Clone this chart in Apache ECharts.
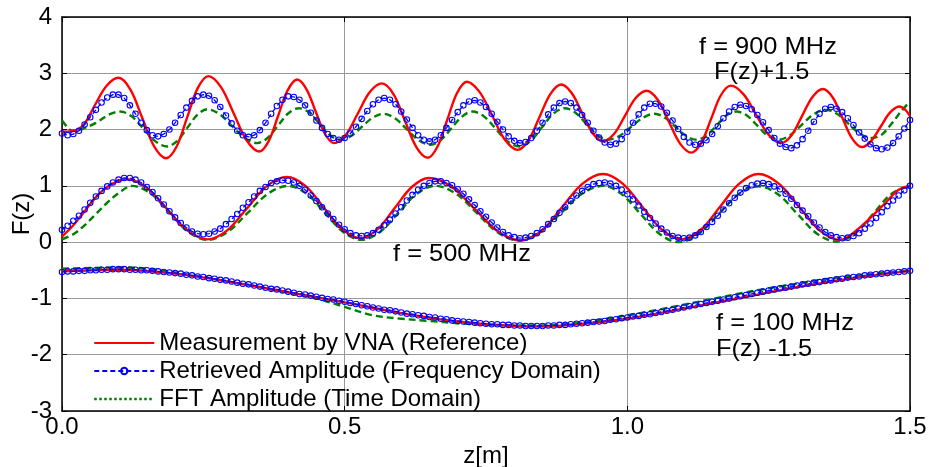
<!DOCTYPE html>
<html><head><meta charset="utf-8">
<script src="https://cdn.jsdelivr.net/npm/echarts@6/dist/echarts.min.js"></script>
<style>html,body{margin:0;padding:0;background:#fff}#c{width:929px;height:467px}</style>
</head><body><div id="c"></div>
<script>
// ---------- data ----------
const nameRed = 'Measurement by VNA (Reference)';
const nameBlue = 'Retrieved Amplitude (Frequency Domain)';
const nameGreen = 'FFT Amplitude (Time Domain)';

const xTicks = [0.0, 0.5, 1.0, 1.5];
const yTicks = [-3, -2, -1, 0, 1, 2, 3, 4];

// Retrieved amplitude samples (blue, markers)
const zBlue = [
 0.00,0.01,0.02,0.03,0.04,0.05,0.06,0.07,0.08,0.09,
 0.10,0.11,0.12,0.13,0.14,0.15,0.16,0.17,0.18,0.19,
 0.20,0.21,0.22,0.23,0.24,0.25,0.26,0.27,0.28,0.29,
 0.30,0.31,0.32,0.33,0.34,0.35,0.36,0.37,0.38,0.39,
 0.40,0.41,0.42,0.43,0.44,0.45,0.46,0.47,0.48,0.49,
 0.50,0.51,0.52,0.53,0.54,0.55,0.56,0.57,0.58,0.59,
 0.60,0.61,0.62,0.63,0.64,0.65,0.66,0.67,0.68,0.69,
 0.70,0.71,0.72,0.73,0.74,0.75,0.76,0.77,0.78,0.79,
 0.80,0.81,0.82,0.83,0.84,0.85,0.86,0.87,0.88,0.89,
 0.90,0.91,0.92,0.93,0.94,0.95,0.96,0.97,0.98,0.99,
 1.00,1.01,1.02,1.03,1.04,1.05,1.06,1.07,1.08,1.09,
 1.10,1.11,1.12,1.13,1.14,1.15,1.16,1.17,1.18,1.19,
 1.20,1.21,1.22,1.23,1.24,1.25,1.26,1.27,1.28,1.29,
 1.30,1.31,1.32,1.33,1.34,1.35,1.36,1.37,1.38,1.39,
 1.40,1.41,1.42,1.43,1.44,1.45,1.46,1.47,1.48,1.49,
 1.50];
const blue900 = [
 1.93,1.90,1.92,1.98,2.09,2.22,2.35,2.48,2.57,2.62,
 2.62,2.56,2.43,2.28,2.12,1.99,1.90,1.88,1.92,2.00,
 2.12,2.26,2.39,2.51,2.59,2.62,2.60,2.52,2.40,2.25,
 2.11,1.98,1.90,1.87,1.90,1.99,2.12,2.28,2.42,2.53,
 2.59,2.58,2.53,2.43,2.30,2.16,2.03,1.92,1.85,1.82,
 1.85,1.93,2.05,2.19,2.33,2.45,2.53,2.56,2.53,2.45,
 2.32,2.18,2.03,1.90,1.82,1.79,1.82,1.90,2.03,2.17,
 2.31,2.43,2.50,2.52,2.48,2.40,2.28,2.14,2.00,1.88,
 1.80,1.76,1.78,1.85,1.98,2.12,2.27,2.39,2.47,2.50,
 2.47,2.39,2.26,2.12,1.98,1.86,1.77,1.73,1.75,1.83,
 1.96,2.12,2.27,2.39,2.46,2.46,2.41,2.30,2.16,2.01,
 1.87,1.77,1.73,1.75,1.81,1.92,2.06,2.20,2.32,2.40,
 2.44,2.42,2.36,2.26,2.13,1.99,1.85,1.75,1.69,1.67,
 1.72,1.83,1.98,2.14,2.28,2.37,2.40,2.37,2.31,2.20,
 2.08,1.95,1.84,1.74,1.67,1.65,1.68,1.76,1.88,2.02,
 2.17];
const blue500 = [
 0.22,0.29,0.38,0.47,0.58,0.70,0.81,0.91,0.99,1.06,
 1.11,1.14,1.14,1.11,1.06,0.98,0.89,0.78,0.67,0.55,
 0.44,0.34,0.26,0.19,0.15,0.14,0.15,0.19,0.24,0.32,
 0.41,0.50,0.61,0.71,0.81,0.91,0.98,1.05,1.08,1.10,
 1.09,1.06,1.00,0.93,0.83,0.73,0.62,0.51,0.41,0.31,
 0.23,0.16,0.12,0.11,0.12,0.16,0.22,0.30,0.40,0.51,
 0.62,0.74,0.84,0.93,1.00,1.05,1.08,1.08,1.05,1.01,
 0.94,0.86,0.76,0.66,0.55,0.45,0.35,0.26,0.18,0.12,
 0.09,0.07,0.08,0.11,0.16,0.23,0.32,0.41,0.52,0.62,
 0.73,0.83,0.91,0.98,1.03,1.05,1.06,1.04,1.00,0.93,
 0.85,0.76,0.65,0.54,0.43,0.33,0.24,0.17,0.11,0.08,
 0.07,0.08,0.12,0.18,0.27,0.36,0.47,0.58,0.69,0.79,
 0.88,0.96,1.01,1.04,1.05,1.03,0.99,0.94,0.86,0.77,
 0.66,0.56,0.46,0.35,0.26,0.18,0.12,0.09,0.07,0.08,
 0.11,0.16,0.24,0.33,0.43,0.53,0.64,0.74,0.83,0.92,
 1.00];
const blue100 = [
 -0.53,-0.52,-0.52,-0.51,-0.51,-0.50,-0.50,-0.49,-0.49,-0.48,
 -0.48,-0.48,-0.49,-0.49,-0.50,-0.50,-0.51,-0.52,-0.53,-0.54,
 -0.55,-0.56,-0.58,-0.59,-0.61,-0.62,-0.64,-0.65,-0.67,-0.68,
 -0.70,-0.72,-0.74,-0.75,-0.77,-0.79,-0.81,-0.83,-0.84,-0.86,
 -0.88,-0.90,-0.92,-0.93,-0.95,-0.97,-0.99,-1.01,-1.02,-1.04,
 -1.06,-1.08,-1.10,-1.12,-1.14,-1.16,-1.18,-1.20,-1.21,-1.23,
 -1.25,-1.27,-1.28,-1.30,-1.31,-1.33,-1.34,-1.36,-1.37,-1.39,
 -1.40,-1.41,-1.42,-1.43,-1.44,-1.45,-1.46,-1.46,-1.47,-1.47,
 -1.48,-1.48,-1.49,-1.49,-1.49,-1.49,-1.48,-1.48,-1.47,-1.47,
 -1.46,-1.45,-1.44,-1.43,-1.42,-1.41,-1.40,-1.38,-1.37,-1.35,
 -1.34,-1.32,-1.31,-1.29,-1.28,-1.26,-1.24,-1.22,-1.20,-1.18,
 -1.16,-1.14,-1.12,-1.10,-1.08,-1.06,-1.04,-1.02,-1.00,-0.98,
 -0.96,-0.94,-0.92,-0.90,-0.88,-0.86,-0.84,-0.82,-0.81,-0.79,
 -0.77,-0.75,-0.74,-0.72,-0.71,-0.69,-0.68,-0.66,-0.65,-0.63,
 -0.62,-0.61,-0.59,-0.58,-0.57,-0.56,-0.55,-0.54,-0.53,-0.52,
 -0.51];

// Measurement by VNA (red)
const zRed900 = [0,0.018,0.038,0.059,0.079,0.1,
 0.121,0.142,0.163,0.184, 0.2028,0.2215,0.2403,0.259, 0.2815,0.304,0.3265,0.349,
 0.3658,0.3825,0.3993,0.416, 0.4323,0.4485,0.4648,0.481, 0.5023,0.5235,0.5448,0.566,
 0.5863,0.6065,0.6268,0.647, 0.6643,0.6815,0.6988,0.716, 0.7385,0.761,0.7835,0.806,
 0.8253,0.8445,0.8638,0.883, 0.9015,0.92,0.9385,0.957, 0.9763,0.9955,1.0148,1.034,
 1.0538,1.0735,1.0933,1.113, 1.1305,1.148,1.1655,1.183, 1.2053,1.2275,1.2498,1.272,
 1.2905,1.309,1.3275,1.346, 1.3633,1.3805,1.3978,1.415, 1.4315,1.448,1.4645,1.481,
 1.491,1.5];
const fRed900 = [1.96,1.97,2.08,2.45,2.78,2.92,
 2.71,2.205,1.70,1.49, 1.70,2.22,2.74,2.95, 2.75,2.28,1.81,1.61,
 1.80,2.25,2.70,2.89, 2.72,2.325,1.93,1.76, 1.91,2.29,2.67,2.82,
 2.63,2.16,1.69,1.50, 1.70,2.175,2.65,2.85, 2.67,2.245,1.82,1.64,
 1.81,2.22,2.63,2.80, 2.65,2.295,1.94,1.79, 1.92,2.24,2.56,2.69,
 2.53,2.14,1.75,1.59, 1.76,2.185,2.61,2.78, 2.63,2.27,1.91,1.76,
 1.90,2.24,2.58,2.72, 2.57,2.205,1.84,1.69, 1.80,2.05,2.30,2.41,
 2.36,2.24];
const zRed500 = [0,0.02,0.04,0.06,0.08,0.1,0.115,
 0.1505,0.186,0.2215,0.257, 0.2923,0.3275,0.3628,0.398, 0.4305,0.463,0.4955,0.528,
 0.5583,0.5885,0.6188,0.649, 0.6898,0.7305,0.7713,0.812, 0.8483,0.8845,0.9208,0.957,
 0.9918,1.0265,1.0613,1.096, 1.13,1.164,1.198,1.232, 1.268,1.304,1.34,1.376,
 1.41,1.45,1.48,1.5];
const fRed500 = [0.10,0.30,0.55,0.80,0.98,1.09,1.12,
 0.96,0.585,0.21,0.05, 0.21,0.605,1.00,1.16, 1.00,0.615,0.23,0.07,
 0.23,0.605,0.98,1.14, 0.98,0.585,0.19,0.03, 0.20,0.62,1.04,1.21,
 1.04,0.63,0.22,0.05, 0.22,0.63,1.04,1.21, 1.04,0.625,0.21,0.04,
 0.25,0.63,0.93,1.00];
const zRed100 = [0,0.1,0.2,0.3,0.4,0.5,0.6,0.7,0.8,0.85,0.9,1.0,1.1,1.2,1.3,1.4,1.5];
const fRed100 = [-0.52,-0.49,-0.56,-0.71,-0.89,-1.07,-1.26,-1.41,-1.49,-1.50,-1.47,-1.36,-1.18,-0.99,-0.80,-0.64,-0.51];

// FFT amplitude (green)
const zGreen900 = [0,0.009,0.018,0.035,0.06,0.08,0.092,0.103,
 0.1238,0.1445,0.1653,0.186, 0.2038,0.2215,0.2393,0.257, 0.279,0.301,0.323,0.345,
 0.3635,0.382,0.4005,0.419, 0.4375,0.456,0.4745,0.493, 0.5118,0.5305,0.5493,0.568,
 0.589,0.61,0.631,0.652, 0.6705,0.689,0.7075,0.726, 0.7468,0.7675,0.7883,0.809,
 0.829,0.849,0.869,0.889, 0.9083,0.9275,0.9468,0.966, 0.9865,1.007,1.0275,1.048,
 1.0665,1.085,1.1035,1.122, 1.1398,1.1575,1.1753,1.193, 1.2115,1.23,1.2485,1.267,
 1.2878,1.3085,1.3293,1.35, 1.3708,1.3915,1.4123,1.433, 1.45,1.467,1.484,1.5];
const fGreen900 = [2.16,2.05,1.98,2.01,2.12,2.25,2.30,2.32,
 2.23,2.01,1.79,1.70, 1.80,2.03,2.26,2.36, 2.27,2.06,1.85,1.76,
 1.85,2.07,2.29,2.38, 2.30,2.10,1.90,1.82, 1.89,2.05,2.21,2.28,
 2.20,2.005,1.81,1.73, 1.82,2.025,2.23,2.32, 2.23,2.01,1.79,1.70,
 1.80,2.04,2.28,2.38, 2.30,2.10,1.90,1.82, 1.89,2.05,2.21,2.28,
 2.21,2.05,1.89,1.82, 1.89,2.07,2.25,2.32, 2.25,2.07,1.89,1.82,
 1.90,2.085,2.27,2.35, 2.28,2.10,1.92,1.85, 1.91,2.10,2.32,2.50];
const zGreen500 = [0,0.02,0.04,0.06,0.08,0.1,0.124,
 0.1573,0.1905,0.2238,0.257, 0.2928,0.3285,0.3643,0.40, 0.4325,0.465,0.4975,0.53,
 0.5625,0.595,0.6275,0.66, 0.697,0.734,0.771,0.808, 0.8453,0.8825,0.9198,0.957,
 0.9903,1.0235,1.0568,1.09, 1.1255,1.161,1.1965,1.232, 1.2665,1.301,1.3355,1.37,
 1.4025,1.435,1.4675,1.5];
const fGreen500 = [0.05,0.14,0.30,0.50,0.70,0.87,1.00,
 0.86,0.52,0.18,0.04, 0.18,0.52,0.86,1.00, 0.86,0.52,0.18,0.04,
 0.18,0.52,0.86,1.00, 0.86,0.515,0.17,0.03, 0.17,0.515,0.86,1.00,
 0.85,0.50,0.15,0.00, 0.14,0.495,0.85,0.99, 0.85,0.50,0.15,0.01,
 0.15,0.505,0.86,1.00];
const zGreen100 = [0,0.05,0.1,0.15,0.2,0.25,0.3,0.35,0.4,0.45,0.5,0.55,0.6,0.65,0.7,0.75,0.8,0.85,0.9,0.95,1.0,1.05,1.1,1.15,1.2,1.25,1.3,1.35,1.4,1.45,1.5];
const fGreen100 = [-0.47,-0.46,-0.45,-0.47,-0.54,-0.62,-0.71,-0.80,-0.90,-1.00,-1.15,-1.30,-1.36,-1.40,-1.44,-1.47,-1.48,-1.48,-1.45,-1.38,-1.30,-1.21,-1.11,-1.01,-0.91,-0.82,-0.74,-0.66,-0.60,-0.55,-0.51];

const annotations = [
  {text: 'f = 900 MHz', x: 699, y: 35},
  {text: 'F(z)+1.5', x: 714, y: 60},
  {text: 'f = 500 MHz', x: 393, y: 242},
  {text: 'f = 100 MHz', x: 716, y: 311},
  {text: 'F(z) -1.5', x: 716, y: 337}
];

// ---------- chart ----------
const FONT = 'Liberation Sans, Arial, sans-serif';
const zip = (zs, fs) => zs.map((z, i) => [z, fs[i]]);
const RED = '#ff0000', BLUE = '#0000ff', GREEN = '#008000';

function redSeries(zs, fs) {
  return {type: 'line', name: nameRed, data: zip(zs, fs), smooth: 0.35, symbol: 'none', z: 3,
    lineStyle: {color: RED, width: 2.4}, itemStyle: {color: RED}, silent: true, emphasis: {disabled: true}};
}
function blueSeries(fs) {
  return {type: 'line', name: nameBlue, data: zip(zBlue, fs), smooth: false, symbol: 'circle', symbolSize: 5.5, showAllSymbol: true, z: 4,
    lineStyle: {color: BLUE, width: 1.3, type: [5, 3]},
    itemStyle: {color: 'rgba(255,255,255,0)', borderColor: BLUE, borderWidth: 1.1}, silent: true, emphasis: {disabled: true}};
}
function greenSeries(zs, fs) {
  return {type: 'line', name: nameGreen, data: zip(zs, fs), smooth: 0.35, symbol: 'none', z: 2,
    lineStyle: {color: GREEN, width: 2.4, type: [7, 4]}, itemStyle: {color: GREEN}, silent: true, emphasis: {disabled: true}};
}

const axisCommon = {
  type: 'value',
  axisLine: {show: true, onZero: false, lineStyle: {color: '#000', width: 1.5}},
  axisTick: {show: true, inside: true, length: 5, lineStyle: {color: '#000', width: 1}},
};

const chart = echarts.init(document.getElementById('c'), null, {renderer: 'canvas'});
chart.setOption({
  animation: false,
  backgroundColor: '#fff',
  grid: {left: 62, right: 19, top: 17, bottom: 56, containLabel: false, outerBoundsMode: 'none'},
  xAxis: [
    Object.assign({}, axisCommon, {
      position: 'bottom', min: xTicks[0], max: xTicks[xTicks.length - 1], interval: 0.5,
      name: 'z[m]', nameLocation: 'middle', nameGap: 29,
      nameTextStyle: {color: '#000', fontSize: 24, fontFamily: FONT},
      axisLabel: {show: true, color: '#000', fontSize: 24, fontFamily: FONT, margin: 4,
        formatter: v => v.toFixed(1)},
      splitLine: {show: true, lineStyle: {color: '#999', width: 1}}
    }),
    Object.assign({}, axisCommon, {
      position: 'top', min: xTicks[0], max: xTicks[xTicks.length - 1], interval: 0.5,
      axisLabel: {show: false}, splitLine: {show: false}
    })
  ],
  yAxis: [
    Object.assign({}, axisCommon, {
      position: 'left', min: yTicks[0], max: yTicks[yTicks.length - 1], interval: 1,
      name: 'F(z)', nameLocation: 'middle', nameGap: 28, nameRotate: 90, nameMoveOverlap: false,
      nameTextStyle: {color: '#000', fontSize: 24, fontFamily: FONT},
      axisLabel: {show: true, color: '#000', fontSize: 24, fontFamily: FONT, margin: 10},
      splitLine: {show: true, lineStyle: {color: '#999', width: 1}}
    }),
    Object.assign({}, axisCommon, {
      position: 'right', min: yTicks[0], max: yTicks[yTicks.length - 1], interval: 1,
      axisLabel: {show: false}, splitLine: {show: false}
    })
  ],
  legend: {
    show: true, orient: 'vertical', left: 93, top: 331, padding: 0, itemGap: 4,
    itemWidth: 60, itemHeight: 8, selectedMode: false, backgroundColor: 'transparent',
    textStyle: {color: '#000', fontSize: 24, fontFamily: FONT, lineHeight: 24},
    data: [
      {name: nameRed, itemStyle: {opacity: 0}},
      {name: nameBlue},
      {name: nameGreen, itemStyle: {opacity: 0}, lineStyle: {type: 'dotted', width: 2.5, color: GREEN}}
    ]
  },
  graphic: annotations.map(a => ({
    type: 'text', x: a.x, y: a.y, scaleX: 1.06, silent: true, z: 10,
    style: {text: a.text, fill: '#000', font: '24px ' + FONT, textVerticalAlign: 'top', verticalAlign: 'top'}
  })),
  series: [
    redSeries(zRed900, fRed900), redSeries(zRed500, fRed500), redSeries(zRed100, fRed100),
    blueSeries(blue900), blueSeries(blue500), blueSeries(blue100),
    greenSeries(zGreen900, fGreen900), greenSeries(zGreen500, fGreen500), greenSeries(zGreen100, fGreen100)
  ]
});
</script>
</body></html>
